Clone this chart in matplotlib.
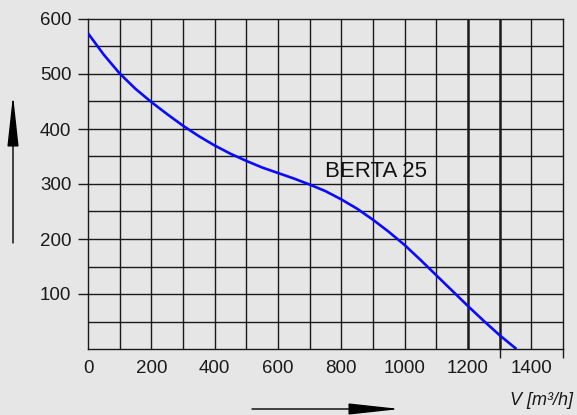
import matplotlib
matplotlib.use("Agg")
import matplotlib.pyplot as plt
import numpy as np

# airflow V [m3/h] and pressure
flow = [0, 50, 100, 150, 200, 250, 300, 350, 400, 450, 500, 550, 600, 650, 700,
        750, 800, 850, 900, 950, 1000, 1050, 1100, 1150, 1200, 1250, 1300, 1353]
pressure = [574, 535, 501, 473, 449, 427, 406, 387, 370, 355, 342, 330, 320, 310, 299,
            287, 272, 255, 235, 213, 189, 162, 134, 106, 78, 51, 25, 0]

x_labels = [0, 200, 400, 600, 800, 1000, 1200, 1400]
y_labels = [100, 200, 300, 400, 500, 600]
x_marks = [200, 400, 600, 800, 1000, 1200, 1300, 1500]
thick_lines = [1200, 1300]
curve_name = "BERTA 25"

plt.rcParams['font.family'] = ['Liberation Sans', 'DejaVu Sans']
bg = '#e6e6e6'

fig = plt.figure(figsize=(5.77, 4.15), dpi=100, facecolor=bg)
ax = fig.add_axes([88/577, 66/415, 475/577, 330/415])
ax.set_facecolor(bg)

ax.set_xlim(0, 1500)
ax.set_ylim(0, 600)

# grid
for gx in range(100, 1500, 100):
    ax.axvline(gx, color='#1a1a1a', lw=1.0 if gx not in thick_lines else 1.8, zorder=1)
for gy in range(50, 600, 50):
    ax.axhline(gy, color='#1a1a1a', lw=1.0, zorder=1)
for s in ax.spines.values():
    s.set_color('#1a1a1a')
    s.set_linewidth(1.0)

ax.plot(flow, pressure, color='#0a0aff', lw=1.9, zorder=3,
        solid_capstyle='butt', solid_joinstyle='round')

ax.text(748, 322, curve_name, fontsize=16, va='center', ha='left',
        color='#111111', zorder=4)

ax.set_xticks(x_labels)
ax.set_xticklabels([str(v) for v in x_labels])
ax.set_xticks(x_marks, minor=True)
ax.tick_params(axis='x', which='major', length=0, pad=8, labelsize=13.5, labelcolor='#1a1a1a')
ax.tick_params(axis='x', which='minor', length=6.5, width=1.0, color='#1a1a1a', direction='out')
ax.set_yticks(y_labels)
ax.set_yticklabels([str(v) for v in y_labels])
ax.tick_params(axis='y', which='major', length=7, width=1.0, color='#1a1a1a', pad=5,
               labelsize=13.5, labelcolor='#1a1a1a')

# direction arrows
arrow = dict(arrowstyle='-|>,head_length=3.2,head_width=0.35', color='black', lw=1.0,
             mutation_scale=10, shrinkA=0, shrinkB=0)
ax.annotate('', xy=(13, 415 - 95), xytext=(13, 415 - 243), xycoords='figure pixels',
            textcoords='figure pixels', arrowprops=arrow, annotation_clip=False)
ax.annotate('', xy=(400, 415 - 409), xytext=(252, 415 - 409), xycoords='figure pixels',
            textcoords='figure pixels', arrowprops=arrow, annotation_clip=False)

fig.text(573/577, (415 - 400)/415, 'V [m³/h]', fontsize=13, style='italic',
         ha='right', va='center', color='#1a1a1a')

fig.savefig('out.png', dpi=100, facecolor=bg)
